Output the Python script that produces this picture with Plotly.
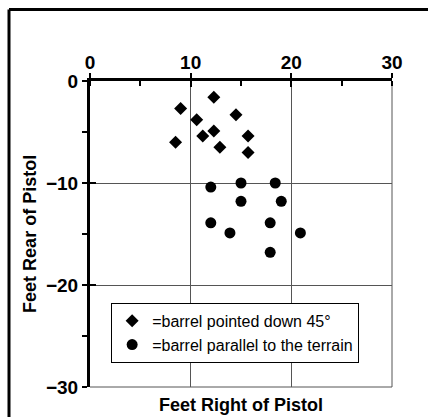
import plotly.graph_objects as go

# Impact points, in feet (x = right of pistol, y = rear of pistol, negative)
down45_x = [12.3, 9.0, 14.5, 10.6, 12.3, 11.2, 15.7, 8.5, 12.9, 15.7]
down45_y = [-1.6, -2.7, -3.3, -3.8, -4.9, -5.4, -5.4, -6.0, -6.5, -7.0]

parallel_x = [12.0, 15.0, 18.4, 15.0, 19.0, 12.0, 17.9, 13.9, 20.9, 17.9]
parallel_y = [-10.4, -10.0, -10.0, -11.8, -11.8, -13.9, -13.9, -14.9, -14.9, -16.8]

x_ticks = [0, 10, 20, 30]
y_ticks = [0, -10, -20, -30]

label_down = "=barrel pointed down 45°"
label_parallel = "=barrel parallel to the terrain"
x_title = "Feet Right of Pistol"
y_title = "Feet Rear of Pistol"

FONT = "Liberation Sans, Arial, sans-serif"
GRID = "#555555"

fig = go.Figure()
fig.add_trace(go.Scatter(
    x=down45_x, y=down45_y, mode="markers", name=label_down,
    marker=dict(symbol="diamond", size=10, color="black"),
))
fig.add_trace(go.Scatter(
    x=parallel_x, y=parallel_y, mode="markers", name=label_parallel,
    marker=dict(symbol="circle", size=11, color="black"),
))
# companion subplot that carries the inner half of the major ticks
fig.add_trace(go.Scatter(x=[], y=[], xaxis="x2", yaxis="y2", showlegend=False))

axis_common = dict(
    showline=True, linecolor="black", linewidth=3,
    showgrid=True, gridcolor=GRID, gridwidth=1,
    zeroline=False, ticks="outside", ticklen=5, tickwidth=2, tickcolor="black",
    tickfont=dict(family=FONT, size=19, color="black", weight="bold"),
)

fig.update_layout(
    width=428, height=417,
    margin=dict(l=90, r=36, t=81, b=30),
    paper_bgcolor="white", plot_bgcolor="white",
    font=dict(family=FONT, color="black"),
    xaxis=dict(
        range=[0, 30], tickvals=x_ticks, side="top", ticklabelstandoff=-4,
        **axis_common,
        minor=dict(dtick=5, tick0=0, ticks="inside", ticklen=5, tickwidth=2,
                   tickcolor="black", showgrid=False),
    ),
    yaxis=dict(
        range=[-30, 0], tickvals=y_ticks, **axis_common,
        minor=dict(dtick=5, tick0=0, ticks="outside", ticklen=5, tickwidth=2,
                   tickcolor="black", showgrid=False),
    ),
    xaxis2=dict(
        range=[0, 30], tickvals=x_ticks, overlaying="x", anchor="y2", side="top",
        showline=False, showgrid=False, zeroline=False, showticklabels=False,
        ticks="inside", ticklen=6, tickwidth=2, tickcolor="black",
    ),
    yaxis2=dict(
        range=[-30, 0], tickvals=y_ticks, overlaying="y", anchor="x2", side="left",
        showline=False, showgrid=False, zeroline=False, showticklabels=False,
        ticks="inside", ticklen=6, tickwidth=2, tickcolor="black",
    ),
    legend=dict(
        x=0.07, y=0.275, xanchor="left", yanchor="top",
        bgcolor="white", bordercolor="black", borderwidth=1,
        font=dict(family=FONT, size=16, color="black"),
        itemwidth=30, tracegroupgap=0,
    ),
    annotations=[
        dict(text=f"<b>{x_title}</b>", xref="paper", yref="paper",
             x=0.5, y=-0.059, xanchor="center", yanchor="middle", showarrow=False,
             font=dict(family=FONT, size=18, color="black")),
        dict(text=f"<b>{y_title}</b>", xref="paper", yref="paper", textangle=-90,
             x=-0.199, y=0.5, xanchor="center", yanchor="middle", showarrow=False,
             font=dict(family=FONT, size=18, color="black")),
    ],
    shapes=[
        # gridlines on the far edges of the plot area
        dict(type="line", xref="x domain", yref="y domain", x0=1, x1=1, y0=0, y1=1,
             line=dict(color=GRID, width=1), layer="below"),
        dict(type="line", xref="x domain", yref="y domain", x0=0, x1=1, y0=0, y1=0,
             line=dict(color=GRID, width=1), layer="below"),
        # outer frame: top and left edges
        dict(type="line", xref="paper", yref="paper", x0=-0.2682, x1=1.12,
             y0=1.2337, y1=1.2337, line=dict(color="black", width=3)),
        dict(type="line", xref="paper", yref="paper", x0=-0.2682, x1=-0.2682,
             y0=1.2337, y1=-0.1, line=dict(color="black", width=3)),
    ],
)

fig.write_html("out.html")
